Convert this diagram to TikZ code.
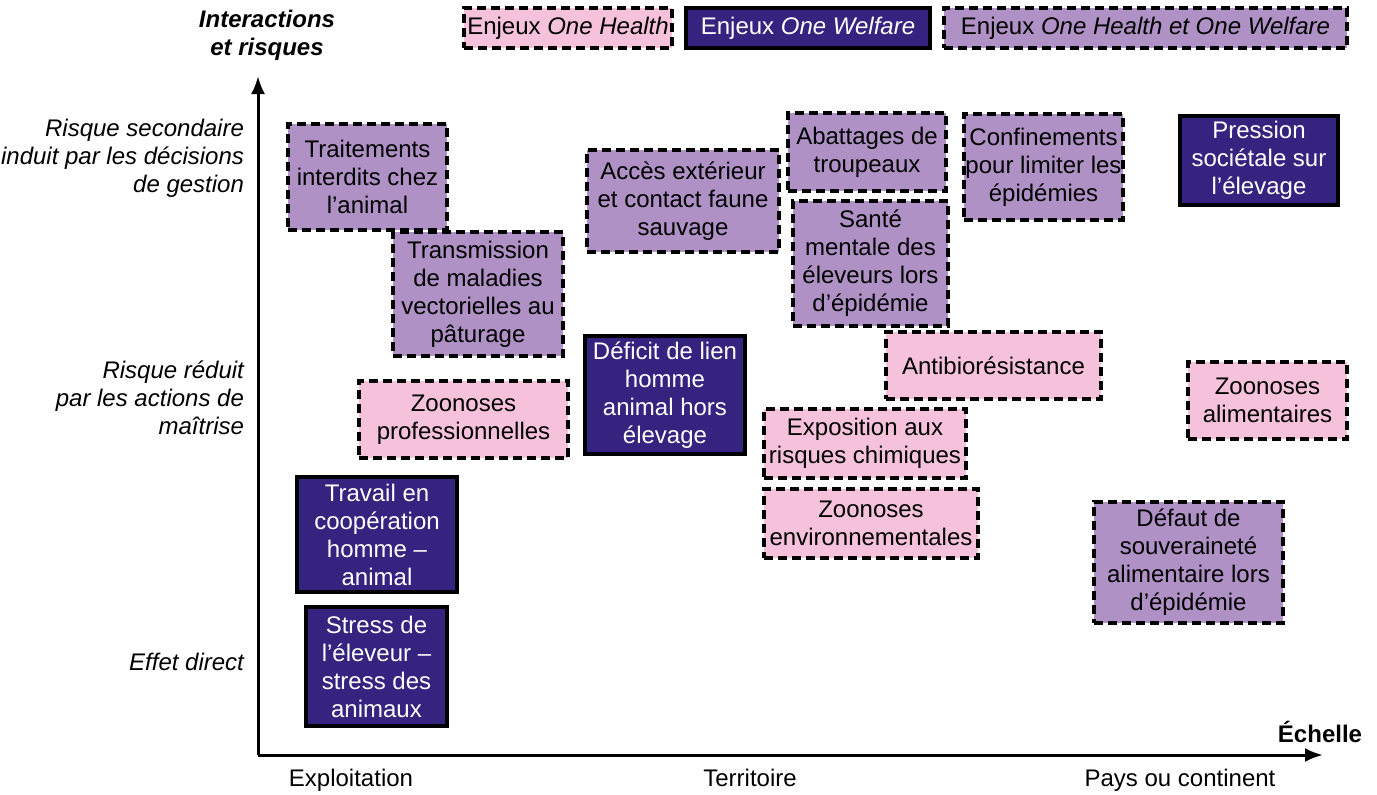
\documentclass[tikz,border=0pt]{standalone}
\usepackage{fontspec}
\setmainfont{Liberation Sans}
\usetikzlibrary{arrows.meta}
\definecolor{P}{RGB}{245, 193, 219}
\definecolor{L}{RGB}{175, 145, 198}
\definecolor{D}{RGB}{52, 36, 128}
\tikzset{
  box/.style={draw=black, line width=1.8pt, align=center, inner sep=0pt,
    font=\fontsize{12}{14}\selectfont},
  health/.style={box, fill=P, dash pattern=on 4.5pt off 2.5pt},
  both/.style={box, fill=L, dash pattern=on 4.5pt off 2.5pt},
  welfare/.style={box, fill=D, text=white},
  axlabel/.style={font=\fontsize{12}{14}\selectfont\itshape, align=right, anchor=east},
  scale label/.style={font=\fontsize{12}{14}\selectfont, anchor=base}
}

\begin{document}
\begin{tikzpicture}[x=0.5pt, y=-0.5pt]
  \useasboundingbox (0,0) rectangle (1377,794);

  %# AXES
  \coordinate (O) at (258,755);
  \coordinate (ytip) at (258,76);
  \coordinate (xtip) at (1323,755);
  \draw[line width=1.5pt, -{Latex[length=9pt, width=7pt]}] (O) -- (ytip);
  \draw[line width=1.5pt, -{Latex[length=9pt, width=7pt]}] (O) -- (xtip);
  \node[font=\fontsize{12}{14}\selectfont\bfseries\itshape, align=center] (ylab) at (267,35) {Interactions\\et risques};
  \node[font=\fontsize{12}{14}\selectfont\bfseries] (xlab) at (1320,732) {Échelle};

  %# NIVEAUX DE RISQUE
  \node[axlabel] (secondaire) at (251,158) {Risque secondaire\\induit par les décisions\\de gestion};
  \node[axlabel] (reduit) at (251,398) {Risque réduit\\par les actions de\\maîtrise};
  \node[axlabel] (direct) at (251,662) {Effet direct};

  %# ECHELLES
  \node[scale label] (exploit) at (351,786) {Exploitation};
  \node[scale label] (territ) at (750,786) {Territoire};
  \node[scale label] (pays) at (1180,786) {Pays ou continent};

  %# LEGENDE
  \node[health, minimum width=104pt, minimum height=20pt] (leghealth) at (568,28) {Enjeux \textit{One Health}};
  \node[welfare, minimum width=122pt, minimum height=20pt] (legwelfare) at (808,28) {Enjeux \textit{One Welfare}};
  \node[both, minimum width=201.5pt, minimum height=20pt] (legboth) at (1145.5,28) {Enjeux \textit{One Health et One Welfare}};

  %# RISQUES SECONDAIRES
  \node[both, minimum width=79.5pt, minimum height=53pt] (traitements) at (367.5,177) {Traitements\\interdits chez\\l’animal};
  \node[both, minimum width=85pt, minimum height=62pt] (vecto) at (478,294) {Transmission\\de maladies\\vectorielles au\\pâturage};
  \node[both, minimum width=96pt, minimum height=51pt] (acces) at (683,201) {Accès extérieur\\et contact faune\\sauvage};
  \node[both, minimum width=79pt, minimum height=39pt] (abattages) at (867,152) {Abattages de\\troupeaux};
  \node[both, minimum width=77.5pt, minimum height=62.5pt] (sante) at (870.5,263.5) {Santé\\mentale des\\éleveurs lors\\d’épidémie};
  \node[both, minimum width=79.5pt, minimum height=53pt] (confin) at (1043.5,167) {Confinements\\pour limiter les\\épidémies};
  \node[welfare, minimum width=79pt, minimum height=44.5pt] (pression) at (1259,160.5) {Pression\\sociétale sur\\l’élevage};

  %# RISQUES REDUITS
  \node[welfare, minimum width=80pt, minimum height=59pt] (deficit) at (665,395) {Déficit de lien\\homme\\animal hors\\élevage};
  \node[health, minimum width=107.5pt, minimum height=33.5pt] (antibio) at (993.5,365.5) {Antibiorésistance};
  \node[health, minimum width=79.5pt, minimum height=38.5pt] (zalim) at (1267.5,400.5) {Zoonoses\\alimentaires};
  \node[health, minimum width=104.5pt, minimum height=38.5pt] (zpro) at (463.5,419.5) {Zoonoses\\professionnelles};
  \node[health, minimum width=101pt, minimum height=34.5pt] (chimie) at (865,443.5) {Exposition aux\\risques chimiques};
  \node[health, minimum width=107pt, minimum height=34.5pt] (zenv) at (871,523.5) {Zoonoses\\environnementales};

  %# EFFETS DIRECTS
  \node[welfare, minimum width=80pt, minimum height=57.5pt] (travail) at (377,534.5) {Travail en\\coopération\\homme –\\animal};
  \node[both, minimum width=94.5pt, minimum height=60.5pt] (souverain) at (1188.5,562.5) {Défaut de\\souveraineté\\alimentaire lors\\d’épidémie};
  \node[welfare, minimum width=70.5pt, minimum height=59.5pt] (stress) at (376.5,666.5) {Stress de\\l’éleveur –\\stress des\\animaux};
\end{tikzpicture}
\end{document}
